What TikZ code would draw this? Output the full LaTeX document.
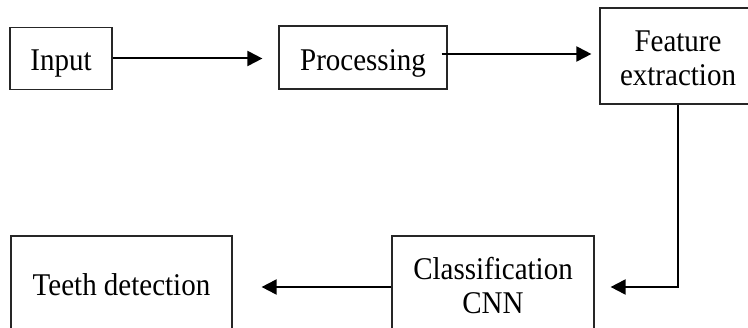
\documentclass[tikz,border=0pt]{standalone}
\usepackage{fontspec}
\usepackage{graphicx}
\setmainfont{Liberation Serif}
\usetikzlibrary{arrows.meta}
\newcommand{\vtxt}[2][5]{\raisebox{-#1pt}[\height][\depth]{\scalebox{1}[1.09]{\begin{tabular}{@{}c@{}}#2\end{tabular}}}}
\begin{document}
\begin{tikzpicture}[x=1pt,y=-1pt,
  box/.style={draw=black!85,line width=1.2pt,rectangle,inner sep=0pt,align=center,
    font=\fontsize{29}{31.5}\selectfont},
  arr/.style={line width=2pt,-{Triangle[length=15pt,width=15pt]}}]
\clip (0,0) rectangle (748,328);
\fill[white] (0,0) rectangle (748,328);
\node[box,minimum width=102pt,minimum height=62pt] (input) at (61,58.5) {\vtxt[5.5]{Input}};
\node[box,minimum width=168pt,minimum height=63pt] (proc) at (363,57.5) {\vtxt[6]{Processing}};
\node[box,minimum width=156pt,minimum height=96pt] (fe) at (678,56) {\vtxt[5.5]{Feature\\extraction}};
\node[box,minimum width=202pt,minimum height=102pt] (cls) at (493,287) {\vtxt[2.5]{Classification\\CNN}};
\node[box,minimum width=221pt,minimum height=100pt] (teeth) at (121.5,286) {\vtxt[2.5]{Teeth detection}};
\draw[arr,shorten >=16pt] (input.east) -- (input.east -| proc.west);
\draw[arr,shorten >=8pt,shorten <=-6pt] ([yshift=3.5pt]proc.east) -- ([yshift=3.5pt]proc.east -| fe.west);
\draw[arr,shorten >=16pt] (fe.south) |- (cls.east);
\draw[arr,shorten >=29pt] (cls.west) -- (cls.west -| teeth.east);
\end{tikzpicture}
\end{document}
